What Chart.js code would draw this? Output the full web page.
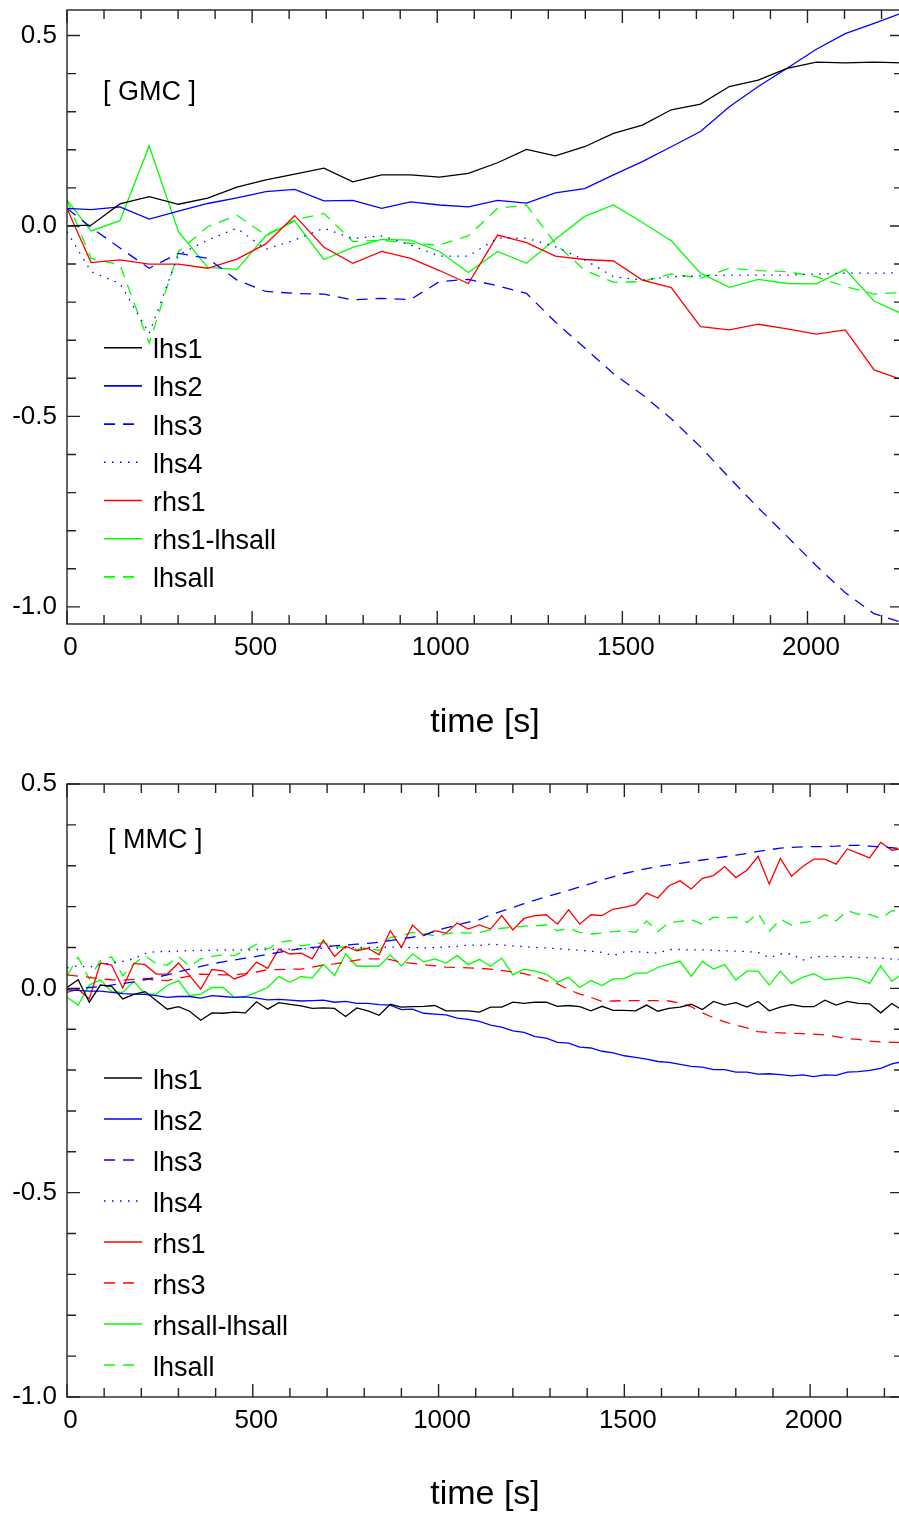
<!DOCTYPE html>
<html>
<head>
<meta charset="utf-8">
<script src="https://cdn.jsdelivr.net/npm/chart.js@4.4.0/dist/chart.umd.min.js"></script>
<style>
  html, body { margin: 0; padding: 0; background: #fff; }
  body { width: 899px; height: 1515px; overflow: hidden; position: relative; }
  canvas { position: absolute; left: 0; }
  #gmc { top: 0; }
  #mmc { top: 757px; }
</style>
</head>
<body>
<canvas id="gmc" width="904" height="757"></canvas>
<canvas id="mmc" width="904" height="758"></canvas>
<script>
// ---- GMC panel data ----
const gmcTime = [0, 65, 143, 222, 301, 380, 459, 537, 615, 694, 772, 850, 928, 1006, 1084,
  1163, 1241, 1319, 1398, 1476, 1554, 1632, 1711, 1789, 1867, 1945, 2024, 2102, 2180, 2258];
const gmcLhs1 = [0.0, 0.002, 0.058, 0.077, 0.057, 0.073, 0.102, 0.121, 0.136, 0.152, 0.116, 0.134, 0.134, 0.128, 0.138,
  0.166, 0.201, 0.184, 0.208, 0.243, 0.265, 0.305, 0.32, 0.366, 0.383, 0.414, 0.43, 0.428, 0.43, 0.428];
const gmcLhs2 = [0.046, 0.043, 0.05, 0.018, 0.039, 0.059, 0.074, 0.09, 0.096, 0.066, 0.067, 0.046, 0.063, 0.055, 0.05,
  0.067, 0.06, 0.087, 0.098, 0.134, 0.169, 0.208, 0.248, 0.313, 0.366, 0.414, 0.464, 0.505, 0.532, 0.56];
const gmcLhs3 = [0.046, -0.004, -0.058, -0.111, -0.072, -0.085, -0.142, -0.172, -0.177, -0.179, -0.194, -0.19, -0.193, -0.146, -0.14,
  -0.157, -0.177, -0.252, -0.32, -0.388, -0.443, -0.506, -0.58, -0.661, -0.74, -0.815, -0.892, -0.963, -1.018, -1.042];
const gmcLhs4 = [-0.015, -0.12, -0.151, -0.282, -0.076, -0.037, -0.006, -0.061, -0.037, -0.006, -0.033, -0.026, -0.05, -0.079, -0.079,
  -0.032, -0.032, -0.054, -0.089, -0.133, -0.142, -0.133, -0.131, -0.129, -0.129, -0.129, -0.126, -0.124, -0.124, -0.123];
const gmcRhs1 = [0.046, -0.096, -0.089, -0.1, -0.1, -0.111, -0.087, -0.047, 0.027, -0.056, -0.098, -0.067, -0.085, -0.117, -0.151,
  -0.024, -0.044, -0.079, -0.088, -0.092, -0.142, -0.162, -0.264, -0.273, -0.258, -0.27, -0.284, -0.273, -0.378, -0.405];
const gmcResid = [0.068, -0.013, 0.014, 0.21, -0.015, -0.109, -0.114, -0.026, 0.013, -0.088, -0.056, -0.035, -0.037, -0.067, -0.122,
  -0.067, -0.098, -0.035, 0.025, 0.055, 0.009, -0.039, -0.124, -0.161, -0.14, -0.151, -0.152, -0.114, -0.197, -0.232];
const gmcLhsall = [0.068, -0.085, -0.102, -0.308, -0.067, -0.002, 0.028, -0.024, 0.016, 0.033, -0.041, -0.037, -0.046, -0.05, -0.026,
  0.046, 0.055, -0.046, -0.116, -0.148, -0.146, -0.126, -0.137, -0.111, -0.117, -0.12, -0.133, -0.159, -0.179, -0.174];

// ---- MMC panel data ----
const mmcTime = [0, 30, 60, 90, 120, 150, 180, 210, 240, 270, 300, 330, 360, 390, 420, 450, 480, 510, 540, 570,
  600, 630, 660, 690, 720, 750, 780, 810, 840, 870, 900, 930, 960, 990, 1020, 1050, 1080, 1110, 1140, 1170,
  1200, 1230, 1260, 1290, 1320, 1350, 1380, 1410, 1440, 1470, 1500, 1530, 1560, 1590, 1620, 1650, 1680, 1710, 1740, 1770,
  1800, 1830, 1860, 1890, 1920, 1950, 1980, 2010, 2040, 2070, 2100, 2130, 2160, 2190, 2220, 2250];
const mmcLhs1 = [0.002, 0.021, -0.034, 0.008, 0.005, -0.026, -0.015, -0.008, -0.03, -0.051,
  -0.045, -0.056, -0.078, -0.06, -0.061, -0.058, -0.06, -0.033, -0.051, -0.035,
  -0.039, -0.043, -0.049, -0.048, -0.049, -0.069, -0.048, -0.055, -0.066, -0.039,
  -0.046, -0.045, -0.044, -0.042, -0.055, -0.055, -0.055, -0.058, -0.046, -0.046,
  -0.034, -0.037, -0.034, -0.034, -0.044, -0.042, -0.045, -0.055, -0.044, -0.054,
  -0.054, -0.055, -0.041, -0.056, -0.049, -0.046, -0.039, -0.052, -0.032, -0.041,
  -0.035, -0.046, -0.032, -0.055, -0.046, -0.04, -0.045, -0.045, -0.029, -0.041,
  -0.032, -0.037, -0.038, -0.06, -0.037, -0.055];
const mmcLhs2 = [-0.004, -0.005, -0.007, -0.007, -0.01, -0.013, -0.014, -0.015, -0.018, -0.022,
  -0.02, -0.02, -0.024, -0.018, -0.02, -0.022, -0.021, -0.024, -0.028, -0.027,
  -0.029, -0.031, -0.03, -0.029, -0.034, -0.032, -0.037, -0.037, -0.04, -0.041,
  -0.052, -0.051, -0.061, -0.063, -0.065, -0.073, -0.076, -0.081, -0.09, -0.095,
  -0.104, -0.108, -0.118, -0.122, -0.132, -0.134, -0.144, -0.146, -0.154, -0.158,
  -0.165, -0.169, -0.173, -0.179, -0.181, -0.186, -0.191, -0.193, -0.199, -0.199,
  -0.205, -0.205, -0.21, -0.209, -0.211, -0.214, -0.212, -0.216, -0.212, -0.213,
  -0.205, -0.204, -0.201, -0.196, -0.185, -0.179];
const mmcLhs3 = [-0.002, 0.0, 0.002, 0.004, 0.008, 0.012, 0.016, 0.021, 0.027, 0.033,
  0.04, 0.047, 0.054, 0.06, 0.065, 0.069, 0.074, 0.078, 0.083, 0.088,
  0.093, 0.097, 0.1, 0.102, 0.104, 0.106, 0.108, 0.11, 0.113, 0.117,
  0.121, 0.125, 0.13, 0.14, 0.148, 0.155, 0.162, 0.168, 0.18, 0.189,
  0.198, 0.207, 0.216, 0.224, 0.232, 0.24, 0.248, 0.256, 0.265, 0.273,
  0.281, 0.287, 0.293, 0.298, 0.302, 0.306, 0.31, 0.314, 0.318, 0.322,
  0.326, 0.33, 0.335, 0.339, 0.343, 0.345, 0.346, 0.347, 0.347, 0.348,
  0.35, 0.35, 0.348, 0.346, 0.344, 0.341];
const mmcLhs4 = [0.05, 0.055, 0.052, 0.058, 0.062, 0.066, 0.072, 0.085, 0.09, 0.09,
  0.091, 0.092, 0.093, 0.093, 0.094, 0.094, 0.094, 0.095, 0.095, 0.096,
  0.096, 0.097, 0.097, 0.098, 0.098, 0.099, 0.1, 0.1, 0.1, 0.101,
  0.101, 0.1, 0.099, 0.1, 0.101, 0.103, 0.106, 0.105, 0.108, 0.106,
  0.104, 0.102, 0.1, 0.099, 0.097, 0.095, 0.093, 0.091, 0.088, 0.08,
  0.089, 0.09, 0.088, 0.086, 0.095, 0.095, 0.094, 0.094, 0.093, 0.092,
  0.091, 0.09, 0.088, 0.075, 0.084, 0.084, 0.069, 0.077, 0.078, 0.078,
  0.077, 0.076, 0.075, 0.074, 0.072, 0.07];
const mmcRhs1 = [-0.01, -0.002, -0.026, 0.062, 0.057, 0.001, 0.061, 0.058, 0.035, 0.035,
  0.062, 0.031, -0.002, 0.046, 0.043, 0.023, 0.033, 0.064, 0.049, 0.096,
  0.084, 0.086, 0.072, 0.118, 0.078, 0.103, 0.092, 0.098, 0.082, 0.141,
  0.1, 0.155, 0.129, 0.141, 0.135, 0.16, 0.145, 0.155, 0.145, 0.178,
  0.143, 0.171, 0.178, 0.18, 0.157, 0.192, 0.157, 0.18, 0.178, 0.194,
  0.198, 0.205, 0.233, 0.221, 0.251, 0.263, 0.243, 0.269, 0.276, 0.298,
  0.271, 0.289, 0.323, 0.255, 0.318, 0.274, 0.298, 0.316, 0.316, 0.304,
  0.341, 0.33, 0.319, 0.357, 0.338, 0.342];
const mmcRhs3 = [0.033, 0.03, 0.027, 0.023, 0.021, 0.02, 0.022, 0.024, 0.02, 0.019,
  0.025, 0.03, 0.035, 0.034, 0.033, 0.033, 0.036, 0.04, 0.046, 0.046,
  0.047, 0.047, 0.052, 0.057, 0.06, 0.064, 0.069, 0.072, 0.072, 0.07,
  0.064, 0.061, 0.058, 0.055, 0.052, 0.051, 0.05, 0.049, 0.047, 0.044,
  0.04, 0.036, 0.029, 0.019, 0.011, -0.003, -0.014, -0.022, -0.032, -0.031,
  -0.03, -0.03, -0.03, -0.03, -0.031, -0.036, -0.045, -0.06, -0.072, -0.082,
  -0.09, -0.097, -0.106, -0.108, -0.109, -0.11, -0.111, -0.112, -0.114, -0.118,
  -0.123, -0.125, -0.129, -0.131, -0.132, -0.132];
const mmcResid = [-0.022, -0.041, 0.008, 0.021, -0.008, -0.01, 0.017, -0.014, -0.014, 0.007,
  0.019, -0.018, -0.014, 0.002, 0.002, -0.022, -0.02, -0.01, 0.002, 0.029,
  0.015, 0.029, 0.025, 0.059, 0.031, 0.084, 0.054, 0.054, 0.054, 0.082,
  0.055, 0.084, 0.065, 0.072, 0.062, 0.08, 0.058, 0.071, 0.054, 0.074,
  0.033, 0.047, 0.042, 0.035, 0.015, 0.027, 0.002, 0.019, 0.007, 0.023,
  0.024, 0.037, 0.037, 0.051, 0.059, 0.066, 0.029, 0.066, 0.047, 0.058,
  0.02, 0.042, 0.042, 0.008, 0.042, 0.012, 0.027, 0.036, 0.021, 0.024,
  0.027, 0.024, 0.012, 0.055, 0.017, 0.037];
const mmcLhsall = [0.031, 0.076, 0.023, 0.068, 0.077, 0.031, 0.06, 0.08, 0.06, 0.057,
  0.078, 0.054, 0.072, 0.078, 0.082, 0.08, 0.092, 0.108, 0.096, 0.112,
  0.117, 0.104, 0.108, 0.112, 0.102, 0.1, 0.095, 0.1, 0.092, 0.125,
  0.129, 0.137, 0.133, 0.129, 0.133, 0.137, 0.135, 0.137, 0.143, 0.147,
  0.149, 0.152, 0.153, 0.155, 0.141, 0.147, 0.137, 0.133, 0.135, 0.139,
  0.141, 0.137, 0.165, 0.139, 0.161, 0.164, 0.168, 0.157, 0.174, 0.172,
  0.174, 0.161, 0.184, 0.139, 0.169, 0.155, 0.161, 0.165, 0.18, 0.165,
  0.19, 0.181, 0.181, 0.171, 0.19, 0.186];

const xTickValues = [0, 500, 1000, 1500, 2000];
const yTickValues = [-1.0, -0.5, 0.0, 0.5];

const FONT = '"Liberation Sans", Arial, Helvetica, sans-serif';
const SOLID = [], DASH = [11, 8], DOT = [1.5, 6.5];

function series(label, times, values, color, dash) {
    return {
        label: label,
        data: times.map((t, i) => ({ x: t, y: values[i] })),
        borderColor: color,
        borderWidth: 1.3,
        borderDash: dash,
        pointRadius: 0,
        tension: 0,
        fill: false
    };
}

// box with inward ticks on all four sides
const framePlugin = {
    id: 'frame',
    afterDraw(chart) {
        const { ctx, chartArea: a, scales: { x, y } } = chart;
        ctx.save();
        ctx.strokeStyle = '#222';
        ctx.lineWidth = 1.4;
        ctx.strokeRect(a.left, a.top, a.right - a.left, a.bottom - a.top);
        ctx.beginPath();
        for (let v = 0; v <= x.max; v += 100) {
            const px = x.getPixelForValue(v);
            const len = v % 500 === 0 ? 13 : 9;
            ctx.moveTo(px, a.bottom); ctx.lineTo(px, a.bottom - len);
            ctx.moveTo(px, a.top); ctx.lineTo(px, a.top + len);
        }
        for (let k = Math.ceil(y.min * 10 - 1e-6); k <= Math.floor(y.max * 10 + 1e-6); k++) {
            const py = y.getPixelForValue(k / 10);
            const len = k % 5 === 0 ? 13 : 9;
            ctx.moveTo(a.left, py); ctx.lineTo(a.left + len, py);
            ctx.moveTo(a.right, py); ctx.lineTo(a.right - len, py);
        }
        ctx.stroke();
        ctx.restore();
    }
};

// legend + panel tag drawn inside the plot
const boxLegend = {
    id: 'boxLegend',
    afterDraw(chart, args, o) {
        const ctx = chart.ctx;
        ctx.save();
        ctx.font = '27px ' + FONT;
        ctx.textBaseline = 'alphabetic';
        ctx.fillStyle = '#000';
        chart.data.datasets.forEach((ds, i) => {
            const y = o.top + i * o.step;
            ctx.beginPath();
            ctx.setLineDash(ds.borderDash);
            ctx.strokeStyle = ds.borderColor;
            ctx.lineWidth = 1.6;
            ctx.moveTo(104, y);
            ctx.lineTo(142, y);
            ctx.stroke();
            ctx.setLineDash([]);
            ctx.fillText(ds.label, 153, y + 10.5);
        });
        ctx.fillText(o.tag, o.tagX, o.tagY);
        ctx.restore();
    }
};

function makeChart(id, datasets, xMax, yMin, yMax, pad, xHeight, titlePad, legendOpts) {
    return new Chart(document.getElementById(id), {
        type: 'line',
        data: { datasets: datasets },
        options: {
            responsive: false,
            animation: false,
            devicePixelRatio: 1,
            layout: { padding: { top: pad, right: 1, bottom: 0, left: 0 } },
            plugins: {
                legend: { display: false },
                tooltip: { enabled: false },
                boxLegend: legendOpts
            },
            scales: {
                x: {
                    type: 'linear',
                    min: 0, max: xMax,
                    grid: { display: false, drawTicks: false },
                    border: { display: false },
                    afterBuildTicks: s => { s.ticks = xTickValues.map(v => ({ value: v })); },
                    afterFit: s => { s.height = xHeight; s.paddingLeft = 0; s.paddingRight = 0; },
                    ticks: {
                        autoSkip: false, maxRotation: 0, padding: 8, labelOffset: 3.5, color: '#000',
                        font: { family: FONT, size: 26 },
                        callback: v => String(v)
                    },
                    title: {
                        display: true, text: 'time [s]', color: '#000',
                        font: { family: FONT, size: 34 },
                        padding: { top: 0, bottom: titlePad }
                    }
                },
                y: {
                    type: 'linear',
                    min: yMin, max: yMax,
                    grid: { display: false, drawTicks: false },
                    border: { display: false },
                    afterBuildTicks: s => { s.ticks = yTickValues.map(v => ({ value: v })); },
                    afterFit: s => { s.width = 67; s.paddingTop = 0; s.paddingBottom = 0; },
                    ticks: {
                        padding: 10, color: '#000',
                        font: { family: FONT, size: 26 },
                        callback: v => v.toFixed(1)
                    }
                }
            }
        },
        plugins: [framePlugin, boxLegend]
    });
}

makeChart('gmc', [
    series('lhs1', gmcTime, gmcLhs1, '#000000', SOLID),
    series('lhs2', gmcTime, gmcLhs2, '#0000ff', SOLID),
    series('lhs3', gmcTime, gmcLhs3, '#0000ff', DASH),
    series('lhs4', gmcTime, gmcLhs4, '#0000ff', DOT),
    series('rhs1', gmcTime, gmcRhs1, '#ff0000', SOLID),
    series('rhs1-lhsall', gmcTime, gmcResid, '#00ff00', SOLID),
    series('lhsall', gmcTime, gmcLhsall, '#00ff00', DASH)
], 2258, -1.045, 0.567, 10, 133, 14,
    { top: 347.7, step: 38.2, tag: '[ GMC ]', tagX: 103, tagY: 100 });

makeChart('mmc', [
    series('lhs1', mmcTime, mmcLhs1, '#000000', SOLID),
    series('lhs2', mmcTime, mmcLhs2, '#0000ff', SOLID),
    series('lhs3', mmcTime, mmcLhs3, '#0000ff', DASH),
    series('lhs4', mmcTime, mmcLhs4, '#0000ff', DOT),
    series('rhs1', mmcTime, mmcRhs1, '#ff0000', SOLID),
    series('rhs3', mmcTime, mmcRhs3, '#ff0000', DASH),
    series('rhsall-lhsall', mmcTime, mmcResid, '#00ff00', SOLID),
    series('lhsall', mmcTime, mmcLhsall, '#00ff00', DASH)
], 2250, -1.0, 0.5, 27, 118, 0,
    { top: 321, step: 41, tag: '[ MMC ]', tagX: 108, tagY: 91 });
</script>
</body>
</html>
